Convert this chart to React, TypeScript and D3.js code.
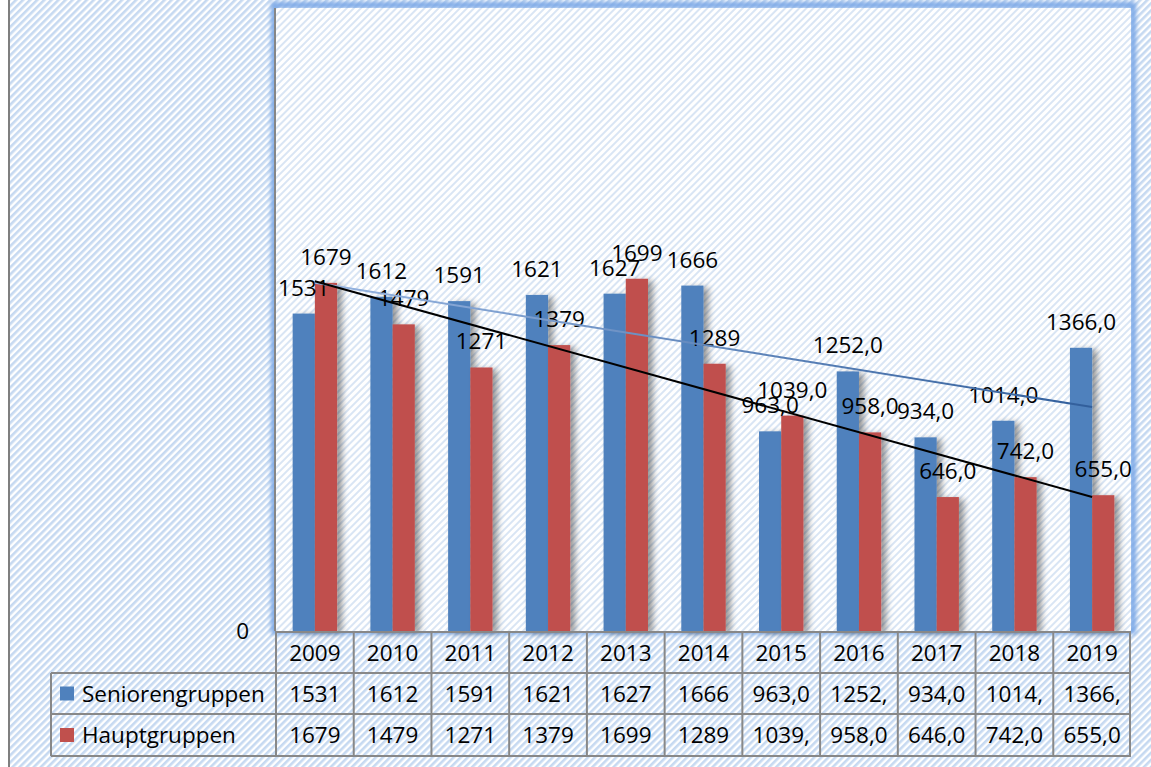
import React, { useEffect, useRef } from 'react';
import * as d3 from 'd3';

// Years along the category axis
const years = ['2009', '2010', '2011', '2012', '2013', '2014', '2015', '2016', '2017', '2018', '2019'];

// Series values
const seniorenValues = [1531, 1612, 1591, 1621, 1627, 1666, 963, 1252, 934, 1014, 1366];
const hauptValues = [1679, 1479, 1271, 1379, 1699, 1289, 1039, 958, 646, 742, 655];

// Number of decimals shown per year (later years were entered as x,0)
const labelDecimals = [0, 0, 0, 0, 0, 0, 1, 1, 1, 1, 1];

const seriesNames = ['Seniorengruppen', 'Hauptgruppen'];
const seriesColors = ['#4f81bd', '#c0504d'];

const yTicks = [0];

const deLocale = d3.formatLocale({ decimal: ',', thousands: '', grouping: [3], currency: ['', ' €'] });

const fmt = (v: number, dec: number) => deLocale.format(`.${dec}f`)(v);

const App: React.FC = () => {
    const containerRef = useRef<HTMLDivElement>(null);

    useEffect(() => {
        if (!containerRef.current) return;
        const container = d3.select(containerRef.current);

        const width = 1151;
        const height = 767;
        const plot = { left: 276, right: 1131, top: 8, bottom: 631 };
        const table = { left: 51, rowH: [41, 41, 42] };
        const font = '"Open Sans", Lato, sans-serif';
        const fontSize = 22.5;

        const svg = container
            .append('svg')
            .attr('width', width)
            .attr('height', height)
            .style('position', 'absolute')
            .style('left', '0px')
            .style('top', '0px')
            .style('font-family', font);

        const defs = svg.append('defs');

        // Diagonal hatch for the chart area
        const outer = defs
            .append('pattern')
            .attr('id', 'hatchOuter')
            .attr('width', 5)
            .attr('height', 5)
            .attr('patternUnits', 'userSpaceOnUse')
            .attr('patternTransform', 'rotate(45)');
        outer.append('rect').attr('width', 5).attr('height', 5).attr('fill', '#ffffff');
        outer.append('rect').attr('width', 2.6).attr('height', 5).attr('fill', '#c6d9f1');

        // Lighter hatch inside the plot area
        const inner = defs
            .append('pattern')
            .attr('id', 'hatchInner')
            .attr('width', 5)
            .attr('height', 5)
            .attr('patternUnits', 'userSpaceOnUse')
            .attr('patternTransform', 'rotate(45)');
        inner.append('rect').attr('width', 5).attr('height', 5).attr('fill', '#ffffff');
        inner.append('rect').attr('width', 2).attr('height', 5).attr('fill', '#d9e5f4');

        const glow = defs.append('filter').attr('id', 'glow').attr('x', '-5%').attr('y', '-5%').attr('width', '110%').attr('height', '110%');
        glow.append('feGaussianBlur').attr('stdDeviation', 2);

        const shadow = defs.append('filter').attr('id', 'barShadow').attr('x', '-50%').attr('y', '-10%').attr('width', '250%').attr('height', '130%');
        shadow
            .append('feDropShadow')
            .attr('dx', 5)
            .attr('dy', 2)
            .attr('stdDeviation', 3)
            .attr('flood-color', '#000')
            .attr('flood-opacity', 0.4);

        const trendGrad = defs
            .append('linearGradient')
            .attr('id', 'trendBlue')
            .attr('gradientUnits', 'userSpaceOnUse')
            .attr('x1', plot.left)
            .attr('x2', plot.right)
            .attr('y1', 0)
            .attr('y2', 0);
        trendGrad.append('stop').attr('offset', '0%').attr('stop-color', '#9cb9e4');
        trendGrad.append('stop').attr('offset', '100%').attr('stop-color', '#2c5a98');

        // Background
        svg.append('rect').attr('width', width).attr('height', height).attr('fill', '#ffffff');
        svg.append('rect').attr('x', 9).attr('y', 0).attr('width', width - 9).attr('height', height).attr('fill', 'url(#hatchOuter)');
        svg.append('line').attr('x1', 9).attr('x2', 9).attr('y1', 0).attr('y2', height).attr('stroke', '#7f7f7f').attr('stroke-width', 2);

        // Scales
        const x = d3.scaleBand<string>().domain(years).range([plot.left, plot.right]).paddingInner(0).paddingOuter(0);
        const bw = x.bandwidth();
        const gapHalf = (bw * 1.5) / 3.5 / 2;
        const x1 = d3.scaleBand<string>().domain(seriesNames).range([gapHalf, bw - gapHalf]).padding(0);
        const y = d3.scaleLinear().domain([0, 3000]).range([plot.bottom, plot.top + 1]);

        // Plot area with glow border
        svg
            .append('rect')
            .attr('x', plot.left - 2)
            .attr('y', plot.top - 3)
            .attr('width', plot.right - plot.left + 4)
            .attr('height', plot.bottom - plot.top + 3)
            .attr('fill', 'none')
            .attr('stroke', '#7aa7e6')
            .attr('stroke-width', 6)
            .attr('filter', 'url(#glow)');
        svg
            .append('rect')
            .attr('x', plot.left)
            .attr('y', plot.top)
            .attr('width', plot.right - plot.left)
            .attr('height', plot.bottom - plot.top)
            .attr('fill', 'url(#hatchInner)');

        // Value axis line and its only tick label
        svg
            .append('line')
            .attr('x1', plot.left - 1)
            .attr('x2', plot.left - 1)
            .attr('y1', plot.top)
            .attr('y2', plot.bottom)
            .attr('stroke', '#868686')
            .attr('stroke-width', 2);
        svg
            .selectAll('.ytick')
            .data(yTicks)
            .enter()
            .append('text')
            .attr('class', 'ytick')
            .attr('x', 249)
            .attr('y', (d) => y(d))
            .attr('dy', '0.35em')
            .attr('text-anchor', 'end')
            .attr('font-size', fontSize)
            .text((d) => d);

        // Bars
        const seriesData = [seniorenValues, hauptValues];
        const groups = svg
            .selectAll('.year')
            .data(years)
            .enter()
            .append('g')
            .attr('class', 'year')
            .attr('transform', (d) => `translate(${x(d)},0)`);

        groups
            .selectAll('rect')
            .data((d, i) => seriesNames.map((name, s) => ({ name, s, value: seriesData[s][i] })))
            .enter()
            .append('rect')
            .attr('x', (d) => x1(d.name)!)
            .attr('y', (d) => y(d.value))
            .attr('width', x1.bandwidth())
            .attr('height', (d) => y(0) - y(d.value))
            .attr('fill', (d) => seriesColors[d.s])
            .attr('filter', 'url(#barShadow)');

        // Linear trendlines (least squares, like Excel)
        const trend = (vals: number[]) => {
            const n = vals.length;
            const xs = vals.map((_, i) => i + 1);
            const mx = d3.mean(xs)!;
            const my = d3.mean(vals)!;
            const slope = d3.sum(xs, (xv, i) => (xv - mx) * (vals[i] - my)) / d3.sum(xs, (xv) => (xv - mx) ** 2);
            return [1, n].map((xv) => ({ i: xv - 1, v: my + slope * (xv - mx) }));
        };
        const line = d3
            .line<{ i: number; v: number }>()
            .x((d) => x(years[d.i])! + bw / 2)
            .y((d) => y(d.v));

        svg.append('path').datum(trend(seniorenValues)).attr('d', line).attr('fill', 'none').attr('stroke', 'url(#trendBlue)').attr('stroke-width', 2);
        svg.append('path').datum(trend(hauptValues)).attr('d', line).attr('fill', 'none').attr('stroke', '#000').attr('stroke-width', 2);

        // Data labels
        groups
            .selectAll('.lbl')
            .data((d, i) => seriesNames.map((name, s) => ({ name, s, value: seriesData[s][i], dec: labelDecimals[i] })))
            .enter()
            .append('text')
            .attr('class', 'lbl')
            .attr('x', (d) => x1(d.name)! + x1.bandwidth() / 2)
            .attr('y', (d) => y(d.value) - 18)
            .attr('text-anchor', 'middle')
            .attr('font-size', fontSize)
            .attr('fill', '#000')
            .text((d) => fmt(d.value, d.dec));

        // Data table
        const rowTop = [plot.bottom + 1];
        table.rowH.forEach((h, r) => rowTop.push(rowTop[r] + h));
        const tbl = svg.append('g').attr('class', 'table');
        const gridColor = '#888888';

        // horizontal lines
        tbl.append('line').attr('x1', plot.left - 1).attr('x2', plot.right).attr('y1', rowTop[0]).attr('y2', rowTop[0]);
        [1, 2, 3].forEach((r) => {
            tbl.append('line').attr('x1', table.left).attr('x2', plot.right).attr('y1', rowTop[r]).attr('y2', rowTop[r]);
        });
        // vertical lines
        tbl.append('line').attr('x1', table.left).attr('x2', table.left).attr('y1', rowTop[1]).attr('y2', rowTop[3]);
        years.forEach((yr) => {
            tbl.append('line').attr('x1', x(yr)!).attr('x2', x(yr)!).attr('y1', rowTop[0]).attr('y2', rowTop[3]);
        });
        tbl.append('line').attr('x1', plot.right - 1).attr('x2', plot.right - 1).attr('y1', rowTop[0]).attr('y2', rowTop[3]);
        tbl.selectAll('line').attr('stroke', gridColor).attr('stroke-width', 2);

        const rowMid = (r: number) => (rowTop[r] + rowTop[r + 1]) / 2;

        tbl
            .selectAll('.yr')
            .data(years)
            .enter()
            .append('text')
            .attr('x', (d) => x(d)! + bw / 2)
            .attr('y', rowMid(0))
            .attr('dy', '0.36em')
            .attr('text-anchor', 'middle')
            .attr('font-size', fontSize)
            .text((d) => d);

        seriesNames.forEach((name, s) => {
            const r = s + 1;
            tbl
                .append('rect')
                .attr('x', 60)
                .attr('y', rowMid(r) - 7)
                .attr('width', 14)
                .attr('height', 14)
                .attr('fill', seriesColors[s]);
            tbl
                .append('text')
                .attr('x', 82)
                .attr('y', rowMid(r))
                .attr('dy', '0.36em')
                .attr('font-size', fontSize)
                .text(name);
            // cells are narrow: Excel cuts the text after five characters
            tbl
                .selectAll(`.cell${s}`)
                .data(seriesData[s])
                .enter()
                .append('text')
                .attr('x', (d, i) => x(years[i])! + bw / 2)
                .attr('y', rowMid(r))
                .attr('dy', '0.36em')
                .attr('text-anchor', 'middle')
                .attr('font-size', fontSize)
                .text((d, i) => fmt(d, labelDecimals[i]).slice(0, 5));
        });

        return () => {
            svg.remove();
        };
    }, []);

    return <div ref={containerRef} />;
};

export default App;
